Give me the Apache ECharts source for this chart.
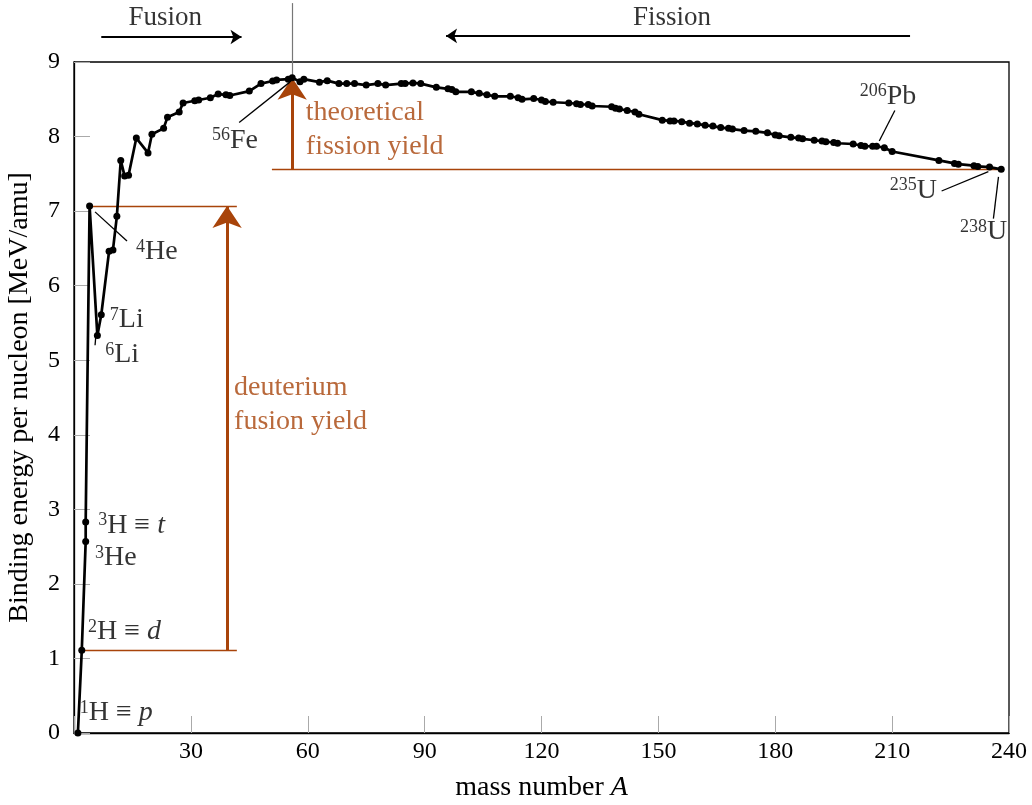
<!DOCTYPE html>
<html><head><meta charset="utf-8">
<script src="https://cdn.jsdelivr.net/npm/echarts@6/dist/echarts.min.js"></script>
<style>html,body{margin:0;padding:0;background:#fff}#c{width:1032px;height:805px}</style>
</head><body><div id="c"></div>
<script>
// ---- data ----
const massNumber = [1,2,3,3,4,6,7,9,10,11,12,13,14,16,19,20,23,24,27,28,31,32,35,37,39,40,45,48,51,52,55,56,58,59,63,65,68,70,72,75,78,80,84,85,87,89,93,96,97,98,102,104,106,108,112,114,115,118,120,121,123,127,129,130,132,133,138,139,140,142,144,145,151,153,154,156,158,160,162,164,166,168,169,172,175,178,180,181,184,186,187,190,192,193,195,196,200,202,203,205,206,208,210,222,226,227,231,232,235,238];
const bindingEnergy = [0,1.11,2.57,2.83,7.07,5.33,5.61,6.46,6.48,6.93,7.68,7.47,7.48,7.98,7.78,8.03,8.11,8.26,8.33,8.45,8.48,8.49,8.52,8.57,8.56,8.55,8.61,8.71,8.745,8.76,8.77,8.79,8.735,8.77,8.73,8.75,8.71,8.71,8.71,8.69,8.71,8.69,8.71,8.71,8.72,8.71,8.66,8.64,8.63,8.60,8.60,8.58,8.56,8.54,8.54,8.52,8.50,8.51,8.49,8.47,8.46,8.45,8.44,8.43,8.43,8.41,8.40,8.38,8.37,8.35,8.33,8.30,8.22,8.21,8.21,8.20,8.18,8.17,8.15,8.14,8.12,8.11,8.10,8.08,8.07,8.05,8.02,8.01,7.99,7.98,7.97,7.95,7.94,7.93,7.92,7.91,7.90,7.88,7.87,7.87,7.87,7.85,7.80,7.68,7.64,7.63,7.61,7.60,7.59,7.56];
const xTickValues = [30,60,90,120,150,180,210,240];
const yTickValues = [0,1,2,3,4,5,6,7,8,9];

// ---- annotations (in data units) ----
const FONT = "'Liberation Serif','DejaVu Serif',serif";
const ORANGE = '#a8440a';
const nuclideLabels = [
  {a:1.5, e:0.27, t:'{s|1}{n|H ≡ }{i|p}'},
  {a:3.6, e:1.355, t:'{s|2}{n|H ≡ }{i|d}'},
  {a:6.2, e:2.78, t:'{s|3}{n|H ≡ }{i|t}'},
  {a:5.4, e:2.35, t:'{s|3}{n|He}'},
  {a:15.9, e:6.45, t:'{s|4}{n|He}'},
  {a:9.2, e:5.54, t:'{s|7}{n|Li}'},
  {a:8.0, e:5.07, t:'{s|6}{n|Li}'},
  {a:35.4, e:7.95, t:'{s|56}{n|Fe}'},
  {a:201.7, e:8.54, t:'{s|206}{n|Pb}'},
  {a:209.4, e:7.28, t:'{s|235}{n|U}'},
  {a:227.4, e:6.72, t:'{s|238}{n|U}'}
];
const leaders = [
  [[5.4,6.99],[13.6,6.6]],
  [[5.6,5.32],[5.4,5.2]],
  [[42.4,8.19],[55.4,8.73]],
  [[210.7,8.35],[206.7,7.94]],
  [[222.7,7.27],[234.7,7.53]],
  [[236,6.90],[237.3,7.46]]
];
const dYield = [1.11, 7.07];
const fYield = [7.56, 8.79];

const rich = {
  s:{fontFamily:FONT,fontSize:18,color:'#000',verticalAlign:'top',lineHeight:28},
  n:{fontFamily:FONT,fontSize:28,color:'#000',lineHeight:28},
  i:{fontFamily:FONT,fontSize:28,fontStyle:'italic',color:'#000',lineHeight:28}
};

const chart = echarts.init(document.getElementById('c'), null, {renderer:'canvas'});
chart.setOption({
  animation:false,
  grid:{left:74,right:23,top:62,bottom:72,show:true,borderColor:'#000',borderWidth:1.3,backgroundColor:'transparent',outerBoundsMode:'none',containLabel:false},
  xAxis:{type:'value',min:0,max:240,interval:30,
    axisLine:{lineStyle:{color:'#000',width:1.3}},
    axisTick:{inside:true,length:17,lineStyle:{color:'#aaa',width:1}},
    splitLine:{show:false},
    axisLabel:{color:'#000',fontFamily:FONT,fontSize:24,margin:7,formatter:v=>xTickValues.includes(v)?String(v):''},
    name:'{n|mass number }{i|A}',nameLocation:'middle',nameGap:41,
    nameTextStyle:{rich:rich}},
  yAxis:{type:'value',min:0,max:9,interval:1,
    axisLine:{lineStyle:{color:'#000',width:1.3}},
    axisTick:{inside:true,length:16,lineStyle:{color:'#aaa',width:1}},
    splitLine:{show:false},
    axisLabel:{color:'#000',fontFamily:FONT,fontSize:24,margin:14,formatter:v=>yTickValues.includes(v)?String(v):''},
    name:'Binding energy per nucleon [MeV/amu]',nameLocation:'middle',nameGap:40,
    nameTextStyle:{color:'#000',fontFamily:FONT,fontSize:28}},
  series:[
    {type:'lines',coordinateSystem:'cartesian2d',clip:false,z:3,
     lineStyle:{color:ORANGE,width:1.3,opacity:1},symbol:'none',
     data:[{coords:[[1.6,dYield[0]],[41.8,dYield[0]]]},{coords:[[3.7,dYield[1]],[41.8,dYield[1]]]},{coords:[[50.8,fYield[0]],[238,fYield[0]]]}]},
    {type:'lines',coordinateSystem:'cartesian2d',clip:false,z:4,
     lineStyle:{color:ORANGE,width:3,opacity:1},symbol:['none','arrow'],symbolSize:[0,22],
     data:[{coords:[[39.3,dYield[0]],[39.3,dYield[1]]]},{coords:[[56,fYield[0]],[56,fYield[1]]]}]},
    {type:'lines',coordinateSystem:'cartesian2d',clip:false,z:4,
     lineStyle:{color:'#000',width:2,opacity:1},symbol:['none','arrow'],symbolSize:[0,11],
     data:[{coords:[[7,9.335],[43,9.335]]},{coords:[[214.6,9.35],[95.5,9.35]]}]},
    {type:'lines',coordinateSystem:'cartesian2d',clip:false,z:2,
     lineStyle:{color:'#777',width:1.2,opacity:1},symbol:'none',
     data:[{coords:[[56,8.79],[56,9.79]]}]},
    {type:'lines',coordinateSystem:'cartesian2d',clip:false,z:5,
     lineStyle:{color:'#000',width:1.3,opacity:1},symbol:'none',
     data:leaders.map(c=>({coords:c}))},
    {type:'line',name:'binding',data:massNumber.map((a,i)=>[a,bindingEnergy[i]]),
     clip:false,z:10,symbol:'circle',symbolSize:7,showSymbol:true,
     lineStyle:{color:'#000',width:2.7},itemStyle:{color:'#000'}},
    {type:'scatter',clip:false,z:12,symbolSize:0,silent:true,
     label:{show:true,position:'right',distance:0,formatter:p=>p.data[2],rich:rich},
     data:nuclideLabels.map(l=>[l.a,l.e,l.t])},
    {type:'scatter',clip:false,z:12,symbolSize:0,silent:true,
     label:{show:true,position:'right',distance:0,formatter:p=>p.data[2],color:ORANGE,fontFamily:FONT,fontSize:28,lineHeight:34},
     data:[[41.1,4.40,'deuterium\nfusion yield'],[59.5,8.09,'theoretical\nfission yield']]},
    {type:'scatter',clip:false,z:12,symbolSize:0,silent:true,
     label:{show:true,position:'inside',formatter:p=>p.data[2],color:'#000',fontFamily:FONT,fontSize:27},
     data:[[23.4,9.59,'Fusion'],[153.5,9.59,'Fission']]}
  ]
});
</script></body></html>
